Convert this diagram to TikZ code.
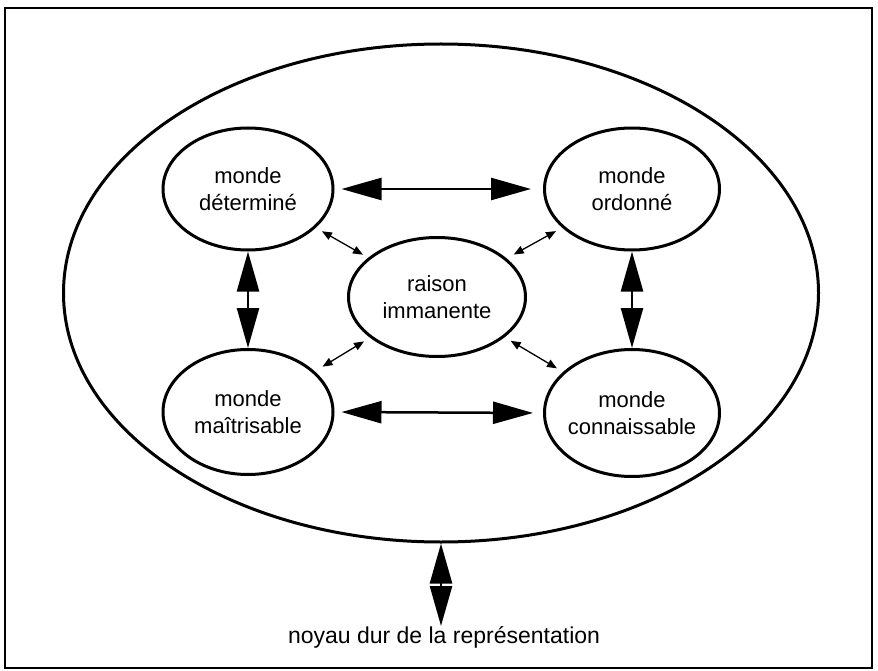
\documentclass[tikz,border=0pt]{standalone}
\usepackage{fontspec}
\setmainfont{Liberation Sans}
\usetikzlibrary{arrows.meta,shapes.geometric}
\begin{document}
\begin{tikzpicture}[x=1pt,y=-1pt,
  blob/.style={ellipse,draw,line width=3pt,inner xsep=-8pt,inner ysep=0pt,align=center,
    font=\fontsize{22}{26.5}\selectfont},
  bigarrow/.style={line width=2.5pt,{Triangle[length=40pt,width=22pt]}-{Triangle[length=40pt,width=22pt]}},
  smallarrow/.style={line width=1.3pt,{Triangle[length=10pt,width=8pt]}-{Triangle[length=10pt,width=8pt]}}]
\useasboundingbox (0,0) rectangle (878,671);
\draw[line width=1.5pt] (5,8) rectangle (872,668);
\node[blob, minimum width=755pt, minimum height=498pt] (outer) at (441,293) {};
\node[blob, minimum width=170pt, minimum height=122pt] (det) at (248,189) {monde\\déterminé};
\node[blob, minimum width=175pt, minimum height=122pt] (ord) at (632,189) {monde\\ordonné};
\node[blob, minimum width=170pt, minimum height=125pt] (mai) at (248,412) {monde\\maîtrisable};
\node[blob, minimum width=175pt, minimum height=127pt] (con) at (632,413) {monde\\connaissable};
\node[blob, minimum width=177pt, minimum height=119pt] (rai) at (437,297) {raison\\immanente};
\node[anchor=base, inner sep=0pt, font=\fontsize{23}{27}\selectfont] (noyau) at (444,643) {noyau dur de la représentation};
\coordinate (bt) at (441,626);
\draw[bigarrow, shorten <=7pt, shorten >=12pt] (det.east) -- (ord.west);
\draw[bigarrow, shorten <=7pt, shorten >=10pt] (mai.east) -- (con.west);
\draw[bigarrow] (det.south) -- (mai.north);
\draw[bigarrow] (ord.south) -- (con.north);
\draw[bigarrow] (outer.south) -- (bt);
\draw[smallarrow, shorten <=7pt, shorten >=6pt] (det) -- (rai);
\draw[smallarrow, shorten <=7pt, shorten >=8pt] (ord) -- (rai);
\draw[smallarrow, shorten <=9pt, shorten >=7pt] (mai) -- (rai);
\draw[smallarrow, shorten <=7pt, shorten >=7pt] (con) -- (rai);
\end{tikzpicture}
\end{document}
